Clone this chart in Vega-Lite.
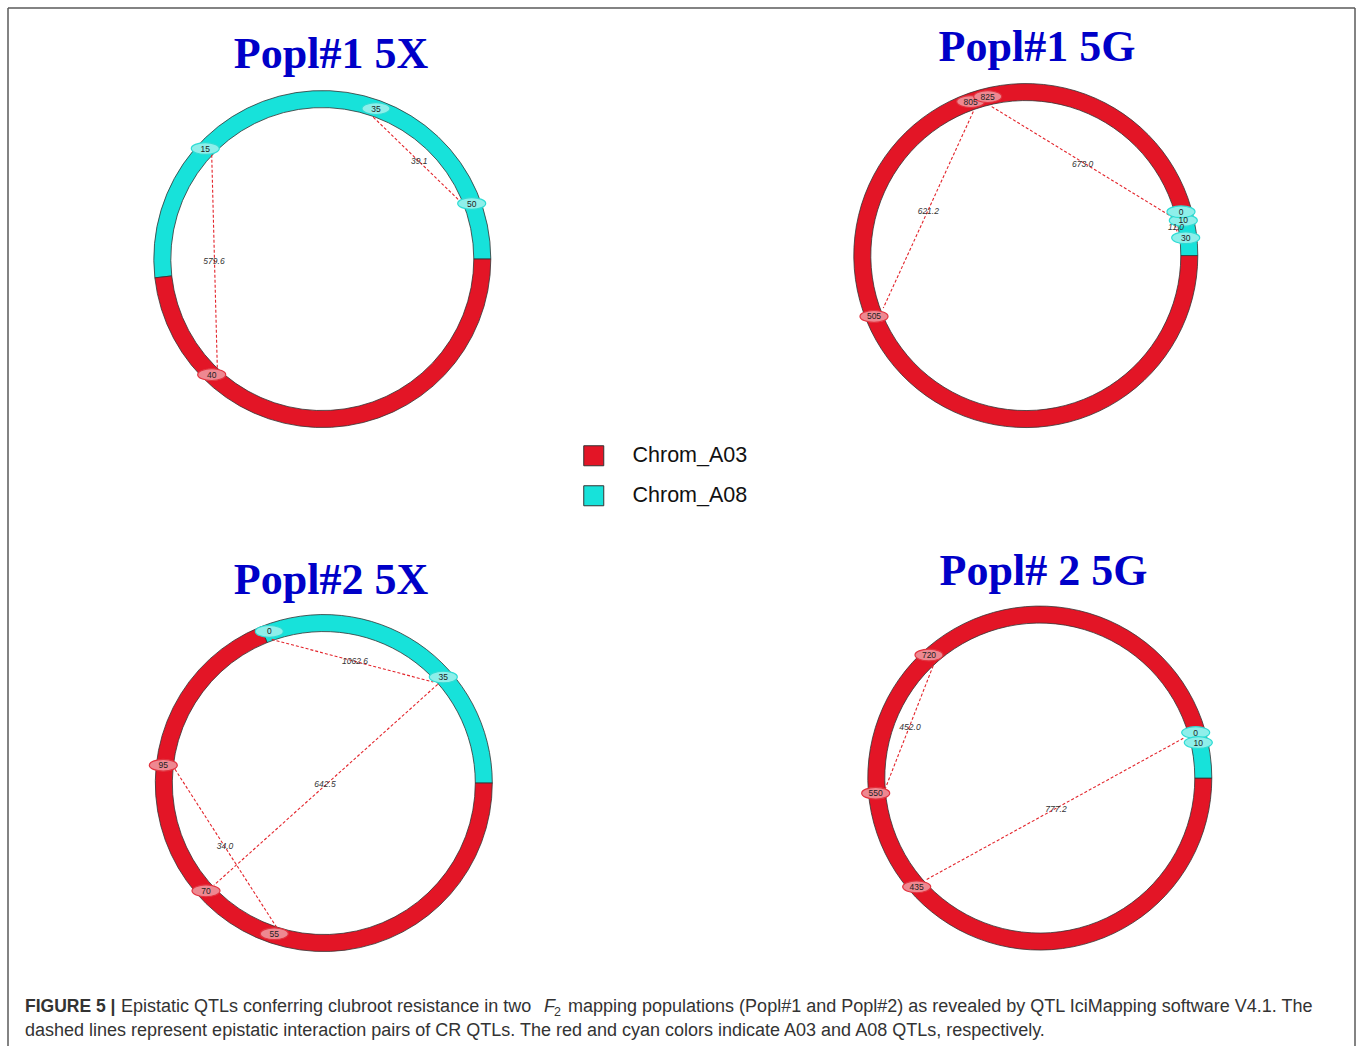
{
  "$schema": "https://vega.github.io/schema/vega-lite/v6.json",
  "autosize": {"type": "fit", "contains": "padding"},
  "width": 1357,
  "height": 1047,
  "padding": 0,
  "background": "white",
  "config": {"view": {"stroke": null}},
  "datasets": {
    "frame": [
      {"x": 8, "y": 8, "x2": 8, "y2": 1047},
      {"x": 8, "y": 8, "x2": 1355, "y2": 8},
      {"x": 1355, "y": 8, "x2": 1355, "y2": 1047}
    ],
    "rings": [
      {"panel": "Popl#1 5X", "side": "L", "chrom": "Chrom_A08", "x": 322.3, "y": 259.3, "t0": 263.6, "t1": 450},
      {"panel": "Popl#1 5X", "side": "L", "chrom": "Chrom_A03", "x": 322.3, "y": 259.3, "t0": 90, "t1": 263.6},
      {"panel": "Popl#1 5G", "side": "R", "chrom": "Chrom_A03", "x": 1025.8, "y": 255.8, "t0": 90, "t1": 434},
      {"panel": "Popl#1 5G", "side": "R", "chrom": "Chrom_A08", "x": 1025.8, "y": 255.8, "t0": 74, "t1": 90},
      {"panel": "Popl#2 5X", "side": "L", "chrom": "Chrom_A08", "x": 323.8, "y": 783.8, "t0": 338, "t1": 450},
      {"panel": "Popl#2 5X", "side": "L", "chrom": "Chrom_A03", "x": 323.8, "y": 783.8, "t0": 90, "t1": 338},
      {"panel": "Popl#2 5G", "side": "R", "chrom": "Chrom_A03", "x": 1039.8, "y": 778.8, "t0": 90, "t1": 434},
      {"panel": "Popl#2 5G", "side": "R", "chrom": "Chrom_A08", "x": 1039.8, "y": 778.8, "t0": 74, "t1": 90}
    ],
    "chords": [
      {"panel": "Popl#1 5X", "x": 211.7, "y": 155, "x2": 217.3, "y2": 368},
      {"panel": "Popl#1 5X", "x": 373.3, "y": 117.3, "x2": 459.3, "y2": 200.7},
      {"panel": "Popl#1 5G", "x": 973.3, "y": 111.7, "x2": 883.3, "y2": 308.3},
      {"panel": "Popl#1 5G", "x": 991.7, "y": 106.7, "x2": 1176.7, "y2": 220},
      {"panel": "Popl#1 5G", "x": 1174, "y": 220, "x2": 1177, "y2": 231.7},
      {"panel": "Popl#2 5X", "x": 271.7, "y": 640, "x2": 433.3, "y2": 682.7},
      {"panel": "Popl#2 5X", "x": 437.7, "y": 685, "x2": 214, "y2": 886},
      {"panel": "Popl#2 5X", "x": 175, "y": 770, "x2": 276.7, "y2": 928.3},
      {"panel": "Popl#2 5G", "x": 935, "y": 661.7, "x2": 885, "y2": 790},
      {"panel": "Popl#2 5G", "x": 926.7, "y": 880.3, "x2": 1183.3, "y2": 739}
    ],
    "markers": [
      {"panel": "Popl#1 5X", "label": "15", "chrom": "Chrom_A08", "x": 205.3, "y": 148.7},
      {"panel": "Popl#1 5X", "label": "35", "chrom": "Chrom_A08", "x": 376, "y": 108.7},
      {"panel": "Popl#1 5X", "label": "50", "chrom": "Chrom_A08", "x": 471.7, "y": 203.7},
      {"panel": "Popl#1 5X", "label": "40", "chrom": "Chrom_A03", "x": 211.7, "y": 375},
      {"panel": "Popl#1 5G", "label": "805", "chrom": "Chrom_A03", "x": 970.7, "y": 101.7},
      {"panel": "Popl#1 5G", "label": "825", "chrom": "Chrom_A03", "x": 987.7, "y": 96.7},
      {"panel": "Popl#1 5G", "label": "10", "chrom": "Chrom_A08", "x": 1183.3, "y": 220.7},
      {"panel": "Popl#1 5G", "label": "0", "chrom": "Chrom_A08", "x": 1181, "y": 212},
      {"panel": "Popl#1 5G", "label": "30", "chrom": "Chrom_A08", "x": 1185.7, "y": 238},
      {"panel": "Popl#1 5G", "label": "505", "chrom": "Chrom_A03", "x": 874, "y": 316.7},
      {"panel": "Popl#2 5X", "label": "0", "chrom": "Chrom_A08", "x": 269.3, "y": 632},
      {"panel": "Popl#2 5X", "label": "35", "chrom": "Chrom_A08", "x": 443.3, "y": 677.7},
      {"panel": "Popl#2 5X", "label": "95", "chrom": "Chrom_A03", "x": 163.3, "y": 766},
      {"panel": "Popl#2 5X", "label": "70", "chrom": "Chrom_A03", "x": 206, "y": 891.7},
      {"panel": "Popl#2 5X", "label": "55", "chrom": "Chrom_A03", "x": 274.3, "y": 934.7},
      {"panel": "Popl#2 5G", "label": "0", "chrom": "Chrom_A08", "x": 1195.7, "y": 733.3},
      {"panel": "Popl#2 5G", "label": "10", "chrom": "Chrom_A08", "x": 1198.3, "y": 743.3},
      {"panel": "Popl#2 5G", "label": "720", "chrom": "Chrom_A03", "x": 929, "y": 655.7},
      {"panel": "Popl#2 5G", "label": "550", "chrom": "Chrom_A03", "x": 875.7, "y": 794},
      {"panel": "Popl#2 5G", "label": "435", "chrom": "Chrom_A03", "x": 916.7, "y": 887.7}
    ],
    "chordLabels": [
      {"panel": "Popl#1 5X", "label": "579.6", "x": 214, "y": 261.7},
      {"panel": "Popl#1 5X", "label": "39.1", "x": 419.3, "y": 161},
      {"panel": "Popl#1 5G", "label": "621.2", "x": 928.3, "y": 211.7},
      {"panel": "Popl#1 5G", "label": "673.0", "x": 1082.7, "y": 164},
      {"panel": "Popl#1 5G", "label": "11.0", "x": 1176, "y": 227.7},
      {"panel": "Popl#2 5X", "label": "1062.6", "x": 355, "y": 661.7},
      {"panel": "Popl#2 5X", "label": "642.5", "x": 325, "y": 784.3},
      {"panel": "Popl#2 5X", "label": "34.0", "x": 225, "y": 847.3},
      {"panel": "Popl#2 5G", "label": "452.0", "x": 910, "y": 727.3},
      {"panel": "Popl#2 5G", "label": "777.2", "x": 1056, "y": 809.3}
    ],
    "titles": [
      {"label": "Popl#1 5X", "x": 331, "y": 68},
      {"label": "Popl#1 5G", "x": 1037, "y": 61},
      {"label": "Popl#2 5X", "x": 331, "y": 595},
      {"label": "Popl# 2 5G", "x": 1043.5, "y": 586}
    ],
    "caption": [
      {"part": "bold", "label": "FIGURE 5 |", "x": 25, "y": 1013},
      {"part": "regular", "label": "Epistatic QTLs conferring clubroot resistance in two", "x": 121, "y": 1013},
      {"part": "italic", "label": "F", "x": 544, "y": 1013},
      {"part": "sub", "label": "2", "x": 554, "y": 1017},
      {"part": "regular", "label": "mapping populations (Popl#1 and Popl#2) as revealed by QTL IciMapping software V4.1. The", "x": 568, "y": 1013},
      {"part": "regular", "label": "dashed lines represent epistatic interaction pairs of CR QTLs. The red and cyan colors indicate A03 and A08 QTLs, respectively.", "x": 25, "y": 1037}
    ]
  },
  "encoding": {
    "x": {"field": "x", "type": "quantitative", "scale": {"domain": [0, 1357], "nice": false, "zero": false}, "axis": null},
    "y": {"field": "y", "type": "quantitative", "scale": {"domain": [0, 1047], "nice": false, "zero": false, "reverse": true}, "axis": null}
  },
  "layer": [
    {
      "data": {"name": "frame"},
      "mark": {"type": "rule", "stroke": "#5a5a5a", "strokeWidth": 1.5},
      "encoding": {"x2": {"field": "x2"}, "y2": {"field": "y2"}}
    },
    {
      "data": {"name": "rings"},
      "transform": [{"filter": "datum.side === 'L'"}],
      "mark": {"type": "arc", "radius": 168.5, "radius2": 151.5, "stroke": "#333333", "strokeWidth": 0.8},
      "encoding": {
        "theta": {"field": "t0", "type": "quantitative", "stack": null, "scale": {"type": "linear", "domain": [0, 360], "range": [0, 6.283185307179586]}},
        "theta2": {"field": "t1"},
        "color": {
          "field": "chrom", "type": "nominal",
          "scale": {"domain": ["Chrom_A03", "Chrom_A08"], "range": ["#E31526", "#17E2DA"]},
          "legend": {
            "title": null, "orient": "none", "legendX": 583, "legendY": 445,
            "symbolType": "square", "symbolSize": 400, "symbolStrokeColor": "#222222", "symbolStrokeWidth": 1,
            "symbolOpacity": 1, "labelFont": "Liberation Sans", "labelFontSize": 21.5, "labelColor": "#111111",
            "labelOffset": 28, "rowPadding": 15, "padding": 0
          }
        }
      }
    },
    {
      "data": {"name": "rings"},
      "transform": [{"filter": "datum.side === 'R'"}],
      "mark": {"type": "arc", "radius": 172, "radius2": 155, "stroke": "#333333", "strokeWidth": 0.8},
      "encoding": {
        "theta": {"field": "t0", "type": "quantitative", "stack": null, "scale": {"type": "linear", "domain": [0, 360], "range": [0, 6.283185307179586]}},
        "theta2": {"field": "t1"},
        "color": {"field": "chrom", "type": "nominal"}
      }
    },
    {
      "data": {"name": "chords"},
      "mark": {"type": "rule", "stroke": "#E3242B", "strokeWidth": 1.1, "strokeDash": [3, 2]},
      "encoding": {"x2": {"field": "x2"}, "y2": {"field": "y2"}}
    },
    {
      "data": {"name": "markers"},
      "mark": {"type": "point", "filled": true, "opacity": 1, "size": 784, "strokeWidth": 1.2,
               "shape": "M-1,0A1,0.42 0 1,0 1,0A1,0.42 0 1,0 -1,0Z"},
      "encoding": {
        "fill": {"condition": {"test": "datum.chrom === 'Chrom_A03'", "value": "#EE8891"}, "value": "#8EEFEA"},
        "stroke": {"condition": {"test": "datum.chrom === 'Chrom_A03'", "value": "#E2323E"}, "value": "#2DDCD4"}
      }
    },
    {
      "data": {"name": "markers"},
      "mark": {"type": "text", "font": "Liberation Sans", "fontSize": 8.5, "fill": "#222222", "align": "center", "baseline": "middle"},
      "encoding": {"text": {"field": "label"}}
    },
    {
      "data": {"name": "chordLabels"},
      "mark": {"type": "text", "font": "Liberation Sans", "fontSize": 8.5, "fontStyle": "italic", "fill": "#333333", "align": "center", "baseline": "middle"},
      "encoding": {"text": {"field": "label"}}
    },
    {
      "data": {"name": "titles"},
      "mark": {"type": "text", "font": "Liberation Serif", "fontSize": 44, "fontWeight": "bold", "fill": "#0000C8", "align": "center", "baseline": "alphabetic"},
      "encoding": {"text": {"field": "label"}}
    },
    {
      "data": {"name": "caption"},
      "transform": [{"filter": "datum.part === 'bold'"}],
      "mark": {"type": "text", "font": "Liberation Sans", "fontSize": 17.5, "fontWeight": "bold", "fill": "#333333", "align": "left", "baseline": "alphabetic"},
      "encoding": {"text": {"field": "label"}}
    },
    {
      "data": {"name": "caption"},
      "transform": [{"filter": "datum.part === 'regular'"}],
      "mark": {"type": "text", "font": "Liberation Sans", "fontSize": 18, "fill": "#333333", "align": "left", "baseline": "alphabetic"},
      "encoding": {"text": {"field": "label"}}
    },
    {
      "data": {"name": "caption"},
      "transform": [{"filter": "datum.part === 'italic'"}],
      "mark": {"type": "text", "font": "Liberation Sans", "fontSize": 18, "fontStyle": "italic", "fill": "#333333", "align": "left", "baseline": "alphabetic"},
      "encoding": {"text": {"field": "label"}}
    },
    {
      "data": {"name": "caption"},
      "transform": [{"filter": "datum.part === 'sub'"}],
      "mark": {"type": "text", "font": "Liberation Sans", "fontSize": 12.5, "fill": "#333333", "align": "left", "baseline": "alphabetic"},
      "encoding": {"text": {"field": "label"}}
    }
  ]
}
